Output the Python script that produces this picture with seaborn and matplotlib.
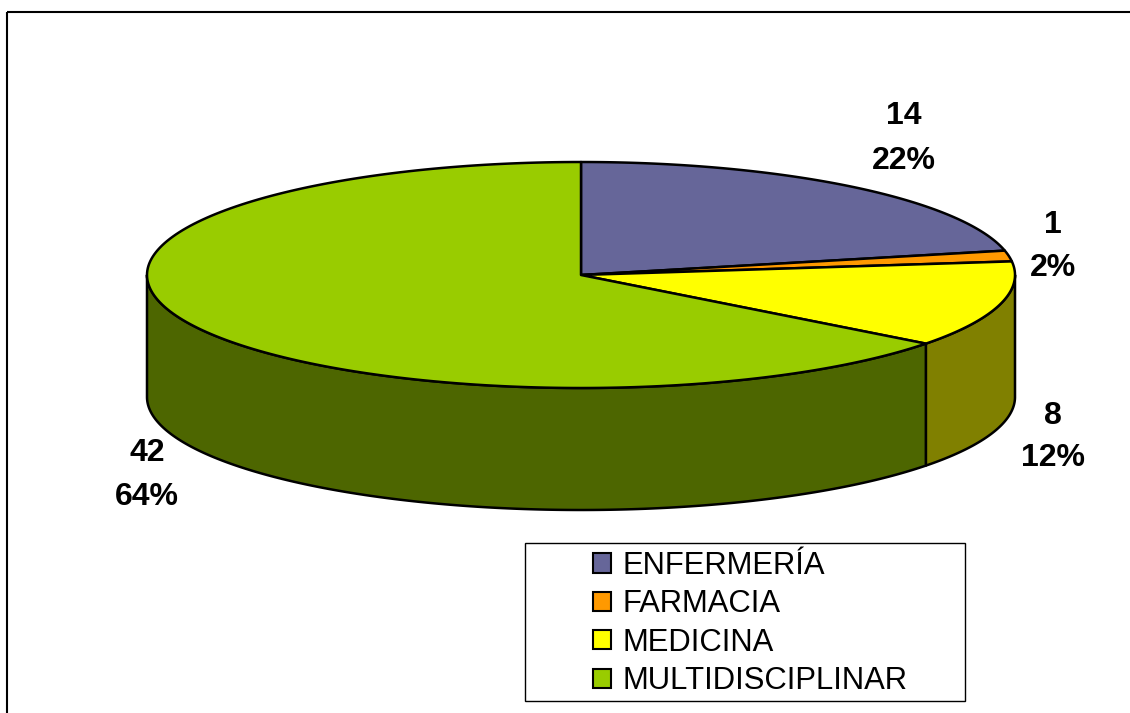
import numpy as np
import seaborn as sns
import matplotlib.pyplot as plt
from matplotlib.patches import Polygon, Rectangle, Patch

categories = ['ENFERMERÍA', 'FARMACIA', 'MEDICINA', 'MULTIDISCIPLINAR']
counts = [14, 1, 8, 42]
percent_labels = ['22%', '2%', '12%', '64%']

sns.set_style('white')
plt.rcParams['font.family'] = ['Liberation Sans', 'DejaVu Sans']

top_colors = sns.color_palette(['#666699', '#FF9900', '#FFFF00', '#99CC00'])
side_colors = sns.color_palette(['#333366', '#804D00', '#808000', '#4D6600'])

# pie geometry in pixels of the picture
cx, cy = 581, 275
rx, ry = 434, 113
depth = 122

fig = plt.figure(figsize=(11.3, 7.13), dpi=100)
ax = fig.add_axes([0, 0, 1, 1])
ax.set_xlim(0, 1130)
ax.set_ylim(713, 0)
ax.axis('off')


def rim(t0, t1, dy=0):
    t = np.radians(np.linspace(t0, t1, 200))
    return np.column_stack([cx + rx * np.sin(t), cy + dy - ry * np.cos(t)])


edges = np.concatenate([[0], np.cumsum(counts)]) / sum(counts) * 360

# sides first, only the front half (90 to 270 deg) can be seen
for i in range(len(counts)):
    t0 = max(edges[i], 90)
    t1 = min(edges[i + 1], 270)
    if t1 <= t0:
        continue
    pts = np.vstack([rim(t0, t1), rim(t0, t1, depth)[::-1]])
    ax.add_patch(Polygon(pts, closed=True, fc=side_colors[i], ec='black', lw=1.8, joinstyle='round'))

for i in range(len(counts)):
    pts = np.vstack([[cx, cy], rim(edges[i], edges[i + 1])])
    ax.add_patch(Polygon(pts, closed=True, fc=top_colors[i], ec='black', lw=1.8, joinstyle='round'))

# outer frame, right and bottom run off the picture
ax.add_patch(Rectangle((7, 12), 1140, 720, fc='none', ec='black', lw=1.5, clip_on=True))

label_pos = [(904, 116, 161), (1053, 225, 268), (1053, 416, 458), (147, 453, 497)]
for n, p, (x, y1, y2) in zip(counts, percent_labels, label_pos):
    ax.text(x, y1, str(n), ha='center', va='center', fontsize=23, fontweight='bold', color='black')
    ax.text(x, y2, p, ha='center', va='center', fontsize=23, fontweight='bold', color='black')

ax.add_patch(Rectangle((525, 543), 440, 158, fc='white', ec='black', lw=1))
handles = [Patch(fc=c, ec='black', lw=1.5) for c in top_colors]
ax.legend(handles, categories, loc='upper left', bbox_to_anchor=(593, 551),
          bbox_transform=ax.transData, frameon=False, fontsize=22.3, borderpad=0, borderaxespad=0,
          handlelength=0.58, handleheight=0.58, handletextpad=0.36, labelspacing=0.27,
          labelcolor='black')

fig.savefig('out.png', dpi=100)
